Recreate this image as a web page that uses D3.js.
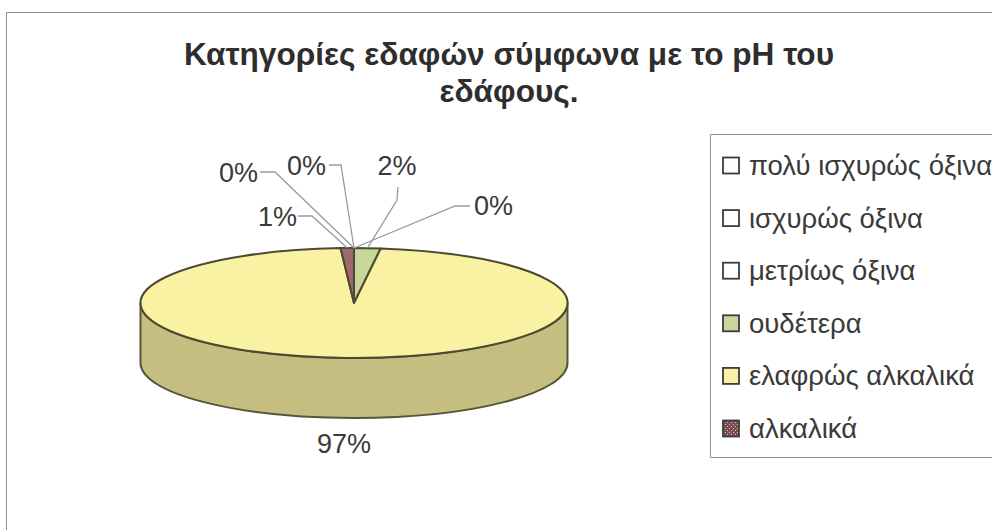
<!DOCTYPE html>
<html>
<head>
<meta charset="utf-8">
<script src="https://cdn.jsdelivr.net/npm/d3@7"></script>
<style>
html, body { margin: 0; padding: 0; background: #fff; overflow: hidden; }
svg { display: block; }
text { font-family: "Liberation Sans", Arial, sans-serif; fill: #3a3a3a; }
</style>
</head>
<body>
<svg id="chart" width="992" height="530"></svg>
<script>
// Soil categories by pH and their share of the samples (percent)
const categories = ["πολύ ισχυρώς όξινα", "ισχυρώς όξινα", "μετρίως όξινα", "ουδέτερα", "ελαφρώς αλκαλικά", "αλκαλικά"];
const shares = [0, 0, 0, 2, 97, 1];
const titleLines = ["Κατηγορίες εδαφών σύμφωνα με το pH του", "εδάφους."];

// Slice appearance, one entry per category
const topColors = ["#ffffff", "#ffffff", "#ffffff", "#c8d69a", "#f9f2a2", "#a2666c"];
const sideColors = ["#ffffff", "#ffffff", "#ffffff", "#a9b070", "#c6be80", "#7a4c50"];

// Label placement around the pie: label anchor and elbow point of each leader, per category
const labelLayout = [
  { x: 513, y: 215, anchor: "end",    elbow: [470, 206, 455, 206] },
  { x: 326, y: 175, anchor: "end",    elbow: [329, 165, 341, 165] },
  { x: 258, y: 182, anchor: "end",    elbow: [260, 172, 275, 172] },
  { x: 397, y: 175, anchor: "middle", elbow: [398, 187, 397, 200] },
  { x: 344, y: 453, anchor: "middle", elbow: null },
  { x: 297, y: 226, anchor: "end",    elbow: [298, 216, 312, 216] }
];

const svg = d3.select("#chart");

// Outer chart frame
svg.append("path")
  .attr("d", "M6.5,530V12.5H992")
  .attr("fill", "none").attr("stroke", "#8c8c8c").attr("stroke-width", 1);

// Title
svg.append("text").selectAll("tspan").data(titleLines).join("tspan")
  .attr("x", 509)
  .attr("y", (d, i) => 65 + i * 37)
  .attr("text-anchor", "middle")
  .attr("font-size", 31.6)
  .attr("font-weight", "bold")
  .style("fill", "#2e2e2e")
  .text(d => d);

// Pie geometry: a unit-radius pie squashed vertically for the tilted view
const cx = 354, cy = 303, rx = 213.5, ry = 55, depth = 60;
const radius = d3.scaleLinear().domain([0, 1]).range([0, rx]);
const arcs = d3.pie().sort(null).value(d => d)(shares);
const arc = d3.arc().innerRadius(0).outerRadius(radius(1));

// Cylinder wall: front half of the rim swept down by the depth
const frontSlice = arcs[4];
svg.append("path")
  .attr("d", `M${cx - rx},${cy} A${rx},${ry} 0 0 0 ${cx + rx},${cy} V${cy + depth} A${rx},${ry} 0 0 1 ${cx - rx},${cy + depth} Z`)
  .attr("fill", sideColors[frontSlice.index])
  .attr("stroke", "#55553a").attr("stroke-width", 2).attr("stroke-linejoin", "round");

// Top face slices, skipping the empty categories
svg.append("g")
  .attr("transform", `translate(${cx},${cy}) scale(1,${ry / rx})`)
  .selectAll("path")
  .data(arcs.filter(d => d.value > 0))
  .join("path")
  .attr("d", arc)
  .attr("fill", d => topColors[d.index])
  .attr("stroke", "#4a4a32")
  .attr("stroke-width", 2)
  .attr("stroke-linejoin", "round")
  .attr("vector-effect", "non-scaling-stroke");

// Leader lines run from the rim at each slice's middle angle to the label
const rimPoint = d => {
  const a = (d.startAngle + d.endAngle) / 2;
  return [cx + rx * Math.sin(a), cy - ry * Math.cos(a)];
};
svg.append("g").selectAll("path")
  .data(arcs.filter(d => labelLayout[d.index].elbow))
  .join("path")
  .attr("d", d => {
    const [x0, y0, x1, y1] = labelLayout[d.index].elbow;
    const [rimX, rimY] = rimPoint(d);
    return `M${x0},${y0} L${x1},${y1} L${rimX},${rimY}`;
  })
  .attr("fill", "none")
  .attr("stroke", "#9a9a9a")
  .attr("stroke-width", 1.3);

// Percentage labels
svg.append("g").selectAll("text")
  .data(arcs)
  .join("text")
  .attr("x", d => labelLayout[d.index].x)
  .attr("y", d => labelLayout[d.index].y)
  .attr("text-anchor", d => labelLayout[d.index].anchor)
  .attr("font-size", 27)
  .text(d => `${d.value}%`);

// Speckled fill for the alkaline legend key
const speckle = svg.append("defs").append("pattern")
  .attr("id", "speckle").attr("width", 4).attr("height", 4)
  .attr("patternUnits", "userSpaceOnUse");
speckle.append("rect").attr("width", 4).attr("height", 4).attr("fill", "#7d4a50");
speckle.append("rect").attr("x", 1).attr("y", 0).attr("width", 1).attr("height", 1).attr("fill", "#d8c8c8");
speckle.append("rect").attr("x", 3).attr("y", 2).attr("width", 1).attr("height", 1).attr("fill", "#d8c8c8");

// Legend: box is open on the right, where it runs off the page
svg.append("path")
  .attr("d", "M992,134.5H710.5V457.5H992")
  .attr("fill", "none").attr("stroke", "#8c8c8c").attr("stroke-width", 1);

const legendY = d3.scalePoint().domain(categories).range([165, 428]);
const legend = svg.append("g").selectAll("g")
  .data(categories)
  .join("g")
  .attr("transform", d => `translate(0,${legendY(d)})`);
legend.append("rect")
  .attr("x", 723).attr("y", -7.5).attr("width", 16).attr("height", 16)
  .attr("fill", (d, i) => i === 5 ? "url(#speckle)" : topColors[i])
  .attr("stroke", "#3c3c3c").attr("stroke-width", 1.8);
legend.append("text")
  .attr("x", 749).attr("y", 10)
  .attr("font-size", 27.5)
  .text(d => d);
</script>
</body>
</html>
